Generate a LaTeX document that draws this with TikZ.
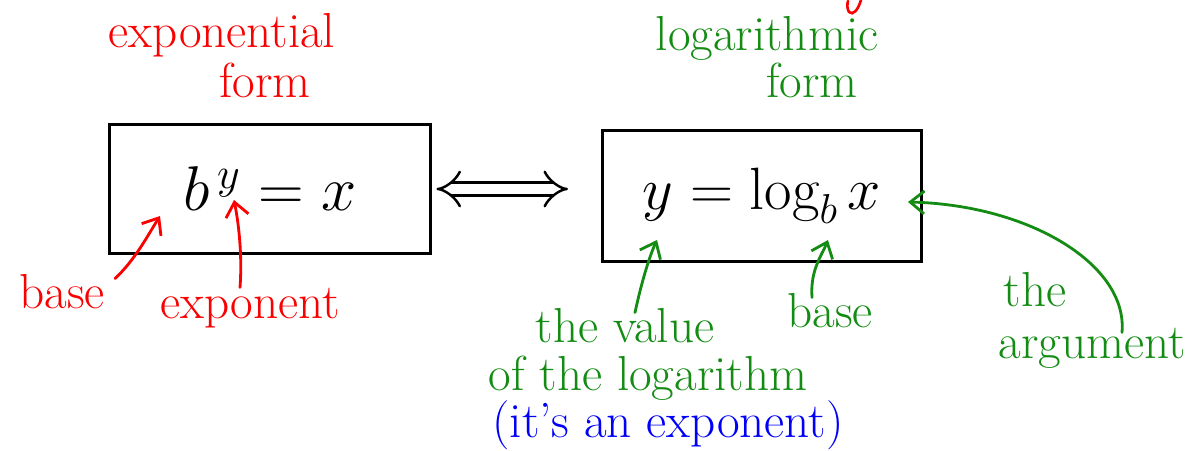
\RequirePackage{fix-cm}
\documentclass[tikz,border=0pt]{standalone}
\usepackage{fontspec}
\usetikzlibrary{arrows.meta}
\definecolor{inkred}{RGB}{250,0,0}
\definecolor{inkgreen}{RGB}{20,140,20}
\definecolor{inkblue}{RGB}{0,0,250}
\tikzset{
  lbl/.style={font=\fontsize{28}{32}\selectfont, inner sep=0pt, anchor=base},
  redlbl/.style={lbl, text=inkred},
  greenlbl/.style={lbl, text=inkgreen},
  bluelbl/.style={lbl, text=inkblue},
  formbox/.style={draw, line width=1.7pt, inner sep=0pt},
  pointer/.style={line width=1.6pt, line cap=round, line join=round,
    -{Straight Barb[length=8pt,width=13pt]}},
  redpointer/.style={pointer, draw=inkred},
  greenpointer/.style={pointer, draw=inkgreen},
}
\begin{document}
\begin{tikzpicture}[x=0.02cm, y=-0.02cm]
\useasboundingbox (0,0) rectangle (1200,450);

% headings
\node[redlbl] (expHead) at (222,47) {exponential};
\node[redlbl] (expForm) at (265,97) {form};
\node[greenlbl] (logHead) at (767,50) {logarithmic};
\node[greenlbl] (logForm) at (812,97) {form};
\draw[inkred, line width=1.5pt, line cap=round]
  (861,0) .. controls (858,10) and (853,16) .. (849,12)
  .. controls (847,9) and (847,4) .. (848,1);

% the two equivalent forms
\node[formbox, minimum width=6.44cm, minimum height=2.6cm,
  font=\fontsize{36}{40}\selectfont] (expBox) at (270,189) {$b^{\,y} = x$};
\node[formbox, minimum width=6.38cm, minimum height=2.64cm,
  font=\fontsize{34}{40}\selectfont] (logBox) at (762,196) {$y = \log_{b} x$};

\draw[line width=1.4pt, double distance=6pt, {Implies}-{Implies},
  shorten <=0.08cm, shorten >=0.66cm]
  (expBox.east) -- (expBox.east -| logBox.west);

% parts of the exponential form
\coordinate (expBase) at (160,216);
\coordinate (expPower) at (234,200);
\node[redlbl] (baseRed) at (62,308) {base};
\node[redlbl] (expoRed) at (250,318) {exponent};
\draw[redpointer] ([xshift=0.2cm,yshift=-0.1cm]baseRed.north east)
  .. controls (135,260) and (148,235) .. (expBase);
\draw[redpointer] ([xshift=-0.2cm]expoRed.north)
  .. controls (242,262) and (240,230) .. (expPower);

% parts of the logarithmic form
\coordinate (logValue) at (657,240);
\coordinate (logBase) at (828,240);
\coordinate (logArg) at (908,202);
\node[greenlbl] (valueA) at (625,342) {the value};
\node[greenlbl] (valueB) at (648,390) {of the logarithm};
\node[bluelbl] (valueC) at (668,437) {(it's an exponent)};
\node[greenlbl] (baseGreen) at (830,327) {base};
\node[greenlbl] (argA) at (1035,306) {the};
\node[greenlbl] (argB) at (1092,358) {argument};
\draw[greenpointer] ([xshift=0.2cm,yshift=-0.1cm]valueA.north)
  .. controls (642,280) and (650,255) .. (logValue);
\draw[greenpointer] ([xshift=-0.36cm,yshift=-0.1cm]baseGreen.north)
  .. controls (810,270) and (822,255) .. (logBase);
\draw[greenpointer] ([xshift=0.6cm,yshift=-0.1cm]argB.north)
  .. controls (1128,265) and (1030,205) .. (logArg);
\end{tikzpicture}
\end{document}
